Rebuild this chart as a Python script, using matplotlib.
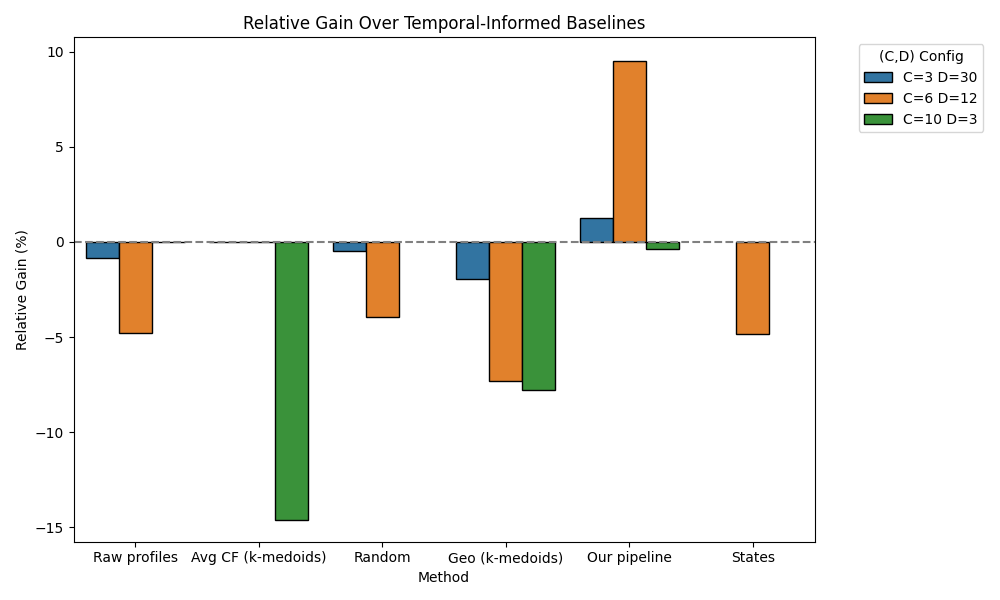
import numpy as np
import matplotlib
matplotlib.use("Agg")
import matplotlib.pyplot as plt

methods = ["Raw profiles", "Avg CF (k-medoids)", "Random", "Geo (k-medoids)", "Our pipeline", "States"]
configs = ["C=3 D=30", "C=6 D=12", "C=10 D=3"]
c3_d30 = [-0.84, 0.0, -0.47, -1.96, 1.26, np.nan]
c6_d12 = [-4.76, 0.0, -3.93, -7.33, 9.53, -4.82]
c10_d3 = [0.0, -14.6, np.nan, -7.76, -0.37, np.nan]
colors = ["#3274a1", "#e1812c", "#3a923a"]

fig, ax = plt.subplots(figsize=(10, 6), dpi=100)
x = np.arange(len(methods))
w = 0.8 / 3
for i, (vals, lab) in enumerate(zip([c3_d30, c6_d12, c10_d3], configs)):
    v = np.array(vals, dtype=float)
    mask = ~np.isnan(v)
    ax.bar(x[mask] + (i - 1) * w, v[mask], width=w, color=colors[i],
           edgecolor="black", linewidth=1, label=lab)

ax.axhline(0, color="gray", linestyle="--", linewidth=1.5)
ax.set_xticks(x)
ax.set_xticklabels(methods)
ax.set_xlim(-0.5, 5.5)
ax.set_ylim(-15.75, 10.75)
ax.set_xlabel("Method")
ax.set_ylabel("Relative Gain (%)")
ax.set_title("Relative Gain Over Temporal-Informed Baselines")
ax.legend(title="(C,D) Config", bbox_to_anchor=(1.05, 1), loc="upper left")
plt.tight_layout()
fig.savefig("out.png", dpi=100)
